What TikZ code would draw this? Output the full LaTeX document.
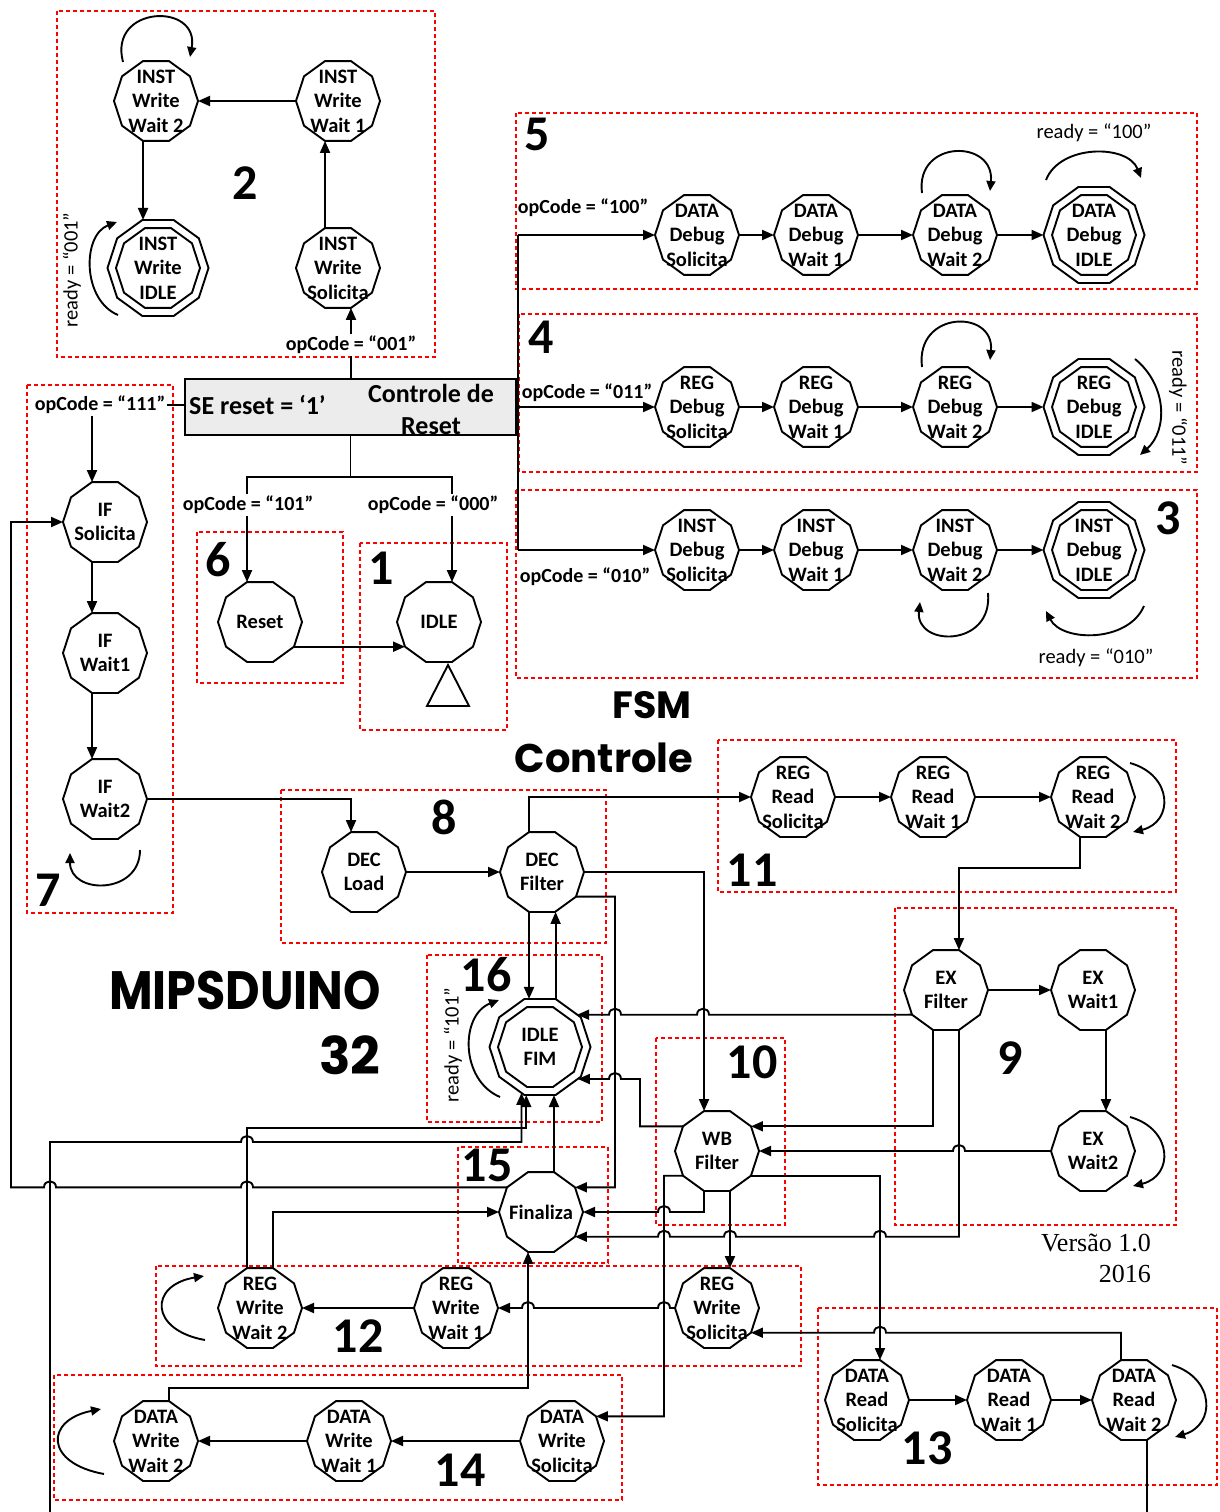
\documentclass[tikz,border=0pt]{standalone}
\usepackage{fontspec}
\usepackage{graphicx}
\setmainfont{Carlito}
\newfontfamily\dispfont{Poppins}
\newfontfamily\verfont{Liberation Serif}
\usetikzlibrary{shapes.geometric,arrows.meta}
\newcommand\hpl[2]{-- (#1+6,#2) .. controls (#1+6,#2-8) and (#1-6,#2-8) .. (#1-6,#2)}
\newcommand\hpr[2]{-- (#1-6,#2) .. controls (#1-6,#2-8) and (#1+6,#2-8) .. (#1+6,#2)}
\newcommand\stn[3]{\node[st] (#1) at (#2) {}; \node[txt] (#1t) at (#1) {#3};}
\newcommand\stdbl[3]{\node[stout] (#1) at (#2) {}; \node[st] (#1i) at (#1) {}; \node[txt] (#1t) at (#1) {#3};}
\begin{document}
\begin{tikzpicture}[x=1pt,y=-1pt,
  st/.style={regular polygon,regular polygon sides=10,draw,line width=1.9pt,minimum size=84pt,inner sep=0pt,outer sep=0pt},
  stout/.style={st,minimum size=101pt},
  txt/.style={font=\bfseries\fontsize{20.5}{24.5}\selectfont,align=center,inner sep=0pt},
  lbl/.style={font=\bfseries\fontsize{20}{24}\selectfont,inner sep=1.5pt},
  rdy/.style={font=\fontsize{20.5}{24}\selectfont,inner sep=0pt},
  num/.style={font=\bfseries\fontsize{50}{50}\selectfont,inner sep=0pt},
  disp/.style={font=\dispfont\bfseries,inner sep=0pt},
  grp/.style={draw=red,line width=1.5pt,dash pattern=on 4pt off 3pt},
  conn/.style={line width=1.9pt},
  arr/.style={conn,-{Triangle[length=12pt,width=10pt]}},
  lp/.style={conn,-{Triangle[length=10pt,width=9pt]}}]
\useasboundingbox (0,0) rectangle (1219,1512);

% group boxes
\draw[grp] (57,11) rectangle (435,357);
\draw[grp] (516,113) rectangle (1197,289);
\draw[grp] (519,314) rectangle (1197,472);
\draw[grp] (516,490) rectangle (1197,678);
\draw[grp] (27,385) rectangle (173,913);
\draw[grp] (197,532) rectangle (343,683);
\draw[grp] (360,543) rectangle (507,730);
\draw[grp] (281,790) rectangle (606,943);
\draw[grp] (718,740) rectangle (1176,892);
\draw[grp] (895,908) rectangle (1176,1225);
\draw[grp] (427,955) rectangle (602,1122);
\draw[grp] (656,1038) rectangle (785,1225);
\draw[grp] (458,1147) rectangle (608,1263);
\draw[grp] (156,1266) rectangle (801,1366);
\draw[grp] (818,1308) rectangle (1217,1485);
\draw[grp] (54,1375) rectangle (622,1500);

% states
\stn{iww2}{156,101}{INST\\Write\\Wait 2}
\stn{iww1}{338,101}{INST\\Write\\Wait 1}
\stdbl{iwidle}{158,268}{INST\\Write\\IDLE}
\stn{iwsol}{338,268}{INST\\Write\\Solicita}

\stn{dds}{697,235}{DATA\\Debug\\Solicita}
\stn{ddw1}{816,235}{DATA\\Debug\\Wait 1}
\stn{ddw2}{955,235}{DATA\\Debug\\Wait 2}
\stdbl{ddi}{1094,235}{DATA\\Debug\\IDLE}
\stn{rds}{697,407}{REG\\Debug\\Solicita}
\stn{rdw1}{816,407}{REG\\Debug\\Wait 1}
\stn{rdw2}{955,407}{REG\\Debug\\Wait 2}
\stdbl{rdi}{1094,407}{REG\\Debug\\IDLE}
\stn{ids}{697,550}{INST\\Debug\\Solicita}
\stn{idw1}{816,550}{INST\\Debug\\Wait 1}
\stn{idw2}{955,550}{INST\\Debug\\Wait 2}
\stdbl{idi}{1094,550}{INST\\Debug\\IDLE}

\stn{ifsol}{105,522}{IF\\Solicita}
\stn{ifw1}{105,653}{IF\\Wait1}
\stn{ifw2}{105,799}{IF\\Wait2}
\stn{rst}{260,622}{Reset}
\stn{idle}{439,622}{IDLE}
\stn{decl}{364,872}{DEC\\Load}
\stn{decf}{542,872}{DEC\\Filter}
\stdbl{ifm}{540,1047}{IDLE\\FIM}
\stn{rrs}{793,797}{REG\\Read\\Solicita}
\stn{rrw1}{933,797}{REG\\Read\\Wait 1}
\stn{rrw2}{1093,797}{REG\\Read\\Wait 2}
\stn{exf}{946,990}{EX\\Filter}
\stn{exw1}{1093,990}{EX\\Wait1}
\stn{exw2}{1093,1151}{EX\\Wait2}
\stn{wb}{717,1151}{WB\\Filter}
\stn{fin}{541,1212}{Finaliza}
\stn{rw2}{260,1308}{REG\\Write\\Wait 2}
\stn{rw1}{456,1308}{REG\\Write\\Wait 1}
\stn{rws}{717,1308}{REG\\Write\\Solicita}
\stn{dw2}{156,1441}{DATA\\Write\\Wait 2}
\stn{dw1}{349,1441}{DATA\\Write\\Wait 1}
\stn{dws}{562,1441}{DATA\\Write\\Solicita}
\stn{drs}{867,1400}{DATA\\Read\\Solicita}
\stn{drw1}{1009,1400}{DATA\\Read\\Wait 1}
\stn{drw2}{1134,1400}{DATA\\Read\\Wait 2}

% control box
\node[draw,fill=gray!15,line width=1.9pt,minimum width=331pt,minimum height=56pt,inner sep=0pt,outer sep=0pt] (ctrl) at (350.5,407) {};
\node[font=\bfseries\fontsize{26}{30}\selectfont,anchor=west,inner sep=0pt] (se) at (189,405) {SE reset = ‘1’};
\node[font=\bfseries\fontsize{26}{32}\selectfont,align=center,inner sep=0pt] (crt) at (431,409) {Controle de\\Reset};

% labels
\node[lbl] (l001) at (351,345) {opCode = “001”};
\node[lbl] (l111) at (100,405) {opCode = “111”};
\node[lbl] (l101) at (248,505) {opCode = “101”};
\node[lbl] (l000) at (433,505) {opCode = “000”};
\node[lbl] (l100) at (583,208) {opCode = “100”};
\node[lbl] (l011) at (587,393) {opCode = “011”};
\node[lbl] (l010) at (585,577) {opCode = “010”};
\node[rdy,rotate=90] (r001) at (72,270) {ready = “001”};
\node[rdy] (r100) at (1094,133) {ready = “100”};
\node[rdy,rotate=-90] (r011) at (1178,408) {ready = “011”};
\node[rdy] (r010) at (1096,658) {ready = “010”};
\node[rdy,rotate=90] (r101) at (453,1045) {ready = “101”};

% numbers
\node[num] (n2) at (245,183) {2};
\node[num] (n5) at (537,134) {5};
\node[num] (n4) at (541,337) {4};
\node[num] (n3) at (1168,518) {3};
\node[num] (n6) at (218,560) {6};
\node[num] (n1) at (381,568) {1};
\node[num] (n7) at (48,890) {7};
\node[num] (n8) at (444,817) {8};
\node[num] (n11) at (752,870) {11};
\node[num] (n16) at (486,975) {16};
\node[num] (n9) at (1010,1058) {9};
\node[num] (n10) at (752,1062) {10};
\node[num] (n15) at (487,1165) {15};
\node[num] (n12) at (358,1336) {12};
\node[num] (n14) at (460,1470) {14};
\node[num] (n13) at (927,1448) {13};

% titles
\node[disp,font=\dispfont\bfseries\fontsize{38}{38}\selectfont] (fsm) at (652,705) {FSM};
\node[disp,font=\dispfont\bfseries\fontsize{40}{40}\selectfont] (ctl) at (604,758) {Controle};
\node[disp,font=\dispfont\bfseries\fontsize{54}{54}\selectfont] (mips) at (245,990) {\scalebox{0.88}[1]{MIPSDUINO}};
\node[disp,font=\dispfont\bfseries\fontsize{52}{52}\selectfont] (n32) at (350,1055) {32};
\node[font=\verfont\fontsize{26}{31}\selectfont,align=right,inner sep=0pt,anchor=east] (ver) at (1151,1258) {Versão 1.0\\2016};

% region 2
\draw[arr] (iww1.west) -- (iww2.east);
\draw[arr] (iww2.-108) -- (iww2.-108 |- iwidle.north);
\draw[arr] (iwsol.108) -- (iww1.-108);
\draw[conn] (ctrl.north -| l001) -- (l001.south);
\draw[arr] (l001.north -| iwsol.-72) -- (iwsol.-72);
\draw[lp] (123,62) .. controls (108,5) and (200,2) .. (190,57);
\draw[lp] (118,315) .. controls (82,300) and (82,235) .. (117,222);

% control box links
\draw[conn] (l111.east) -- (ctrl.west |- l111.east);
\draw[arr] (ifsol.108 |- l111.south) -- (ifsol.108);
\coordinate (jr) at (350.5,477);
\draw[conn] (ctrl.south) -- (jr);
\draw[conn] (jr) -| (rst.108 |- l101.north);
\draw[conn] (jr) -| (idle.72 |- l000.north);
\draw[arr] (rst.108 |- l101.south) -- (rst.108);
\draw[arr] (idle.72 |- l000.south) -- (idle.72);
\draw[arr] (rst.-36) -- (idle.-144);
\draw[conn] (448,665) -- (469,706) -- (427,706) -- cycle;

% debug bus
\coordinate (b5) at (518,235);
\coordinate (b4) at (518,407);
\coordinate (b3) at (518,550);
\draw[conn] (b5) -- (b3);
\draw[arr] (b5) -- (dds.west);
\draw[arr] (b4) -- (rds.west);
\draw[arr] (b3) -- (ids.west);
\draw[arr] (dds.east) -- (ddw1.west);
\draw[arr] (ddw1.east) -- (ddw2.west);
\draw[arr] (ddw2.east) -- (ddi.west);
\draw[arr] (rds.east) -- (rdw1.west);
\draw[arr] (rdw1.east) -- (rdw2.west);
\draw[arr] (rdw2.east) -- (rdi.west);
\draw[arr] (ids.east) -- (idw1.west);
\draw[arr] (idw1.east) -- (idw2.west);
\draw[arr] (idw2.east) -- (idi.west);
\draw[lp] (922,193) .. controls (915,139) and (995,139) .. (990,191);
\draw[lp] (1046,180) .. controls (1060,144) and (1128,144) .. (1141,178);
\draw[lp] (922,367) .. controls (915,310) and (995,309) .. (990,360);
\draw[lp] (1135,359) .. controls (1167,385) and (1168,430) .. (1140,455);
\draw[lp] (988,593) .. controls (993,648) and (915,647) .. (920,602);
\draw[lp] (1144,606) .. controls (1128,643) and (1062,642) .. (1046,611);

% IF
\draw[arr] (ifsol.-108) -- (ifw1.108);
\draw[arr] (ifw1.-108) -- (ifw2.108);
\draw[lp] (140,850) .. controls (140,895) and (70,895) .. (70,853);
\draw[arr] (ifw2.east) -| (decl.108);

% DEC
\draw[arr] (decl.east) -- (decf.west);
\draw[arr] (decf.108) |- (rrs.west);
\draw[arr] (decf.east) -| (wb.108);
\draw[arr] (decf.-36) -| (615,1187.3) -- (fin.36);
\draw[arr] (decf.-108) -- (decf.-108 |- ifm.north);
\draw[arr] (ifm.72) -- (ifm.72 |- decf.south);

% IDLE FIM
\draw[lp] (500,1097) .. controls (460,1080) and (460,1015) .. (499,1000);
\draw[arr] (exf.-144) \hpl{703}{1014.7} \hpl{615}{1014.7} -- (ifm.41 |- exf.-144);
\draw[arr] (wb.144) -| (640,1079) \hpl{615}{1079} -- (ifm.-40 |- 640,1079);
\draw[arr] (rw2.108) -- (rw2.108 |- 0,1128) -| (ifm.-106);
\coordinate (bl) at (50,1512);
\draw[arr] (bl) -- (50,1142) \hpr{247}{1142} -| (ifm.-112);
\draw[arr] (fin.72) -- (fin.72 |- ifm.south);

% Finaliza
\draw[arr] (fin.144) \hpl{247}{1187.3} \hpl{50}{1187.3} -- (11,1187.3) |- (ifsol.west);
\draw[arr] (rw2.72) |- (fin.west);
\draw[arr] (wb.-108) -- (wb.-108 |- fin.east) \hpl{664}{1212} -- (fin.east);
\draw[arr] (exf.-72) -- (exf.-72 |- fin.-36) \hpl{880}{1236.7} \hpl{730}{1236.7} \hpl{664}{1236.7} -- (fin.-36);
\draw[arr] (dw2.72) -- (dw2.72 |- 0,1388) -| (fin.-108);

% WB
\draw[arr] (exf.-108) |- (wb.36);
\draw[arr] (exw2.west) \hpl{959}{1151} -- (wb.east);
\draw[arr] (wb.-144) -| (664,1416.3) -- (dws.36);
\draw[arr] (wb.-72) -- (rws.72);
\draw[arr] (wb.-36) -| (drs.72);

% REG Write
\draw[arr] (rws.west) \hpl{664}{1308} \hpl{528}{1308} -- (rw1.east);
\draw[arr] (rw1.west) -- (rw2.east);
\draw[lp] (205,1340) .. controls (149,1330) and (149,1285) .. (204,1276);
\draw[arr] (drw2.108) -- (drw2.108 |- rws.-36) \hpl{880}{1332.7} -- (rws.-36);

% DATA Write
\draw[arr] (dws.west) -- (dw1.east);
\draw[arr] (dw1.west) -- (dw2.east);
\draw[lp] (104,1474) .. controls (44,1463) and (45,1420) .. (101,1409);

% DATA Read
\draw[arr] (drs.east) -- (drw1.west);
\draw[arr] (drw1.east) -- (drw2.west);
\draw[lp] (1172,1365) .. controls (1215,1378) and (1216,1425) .. (1175,1437);
\coordinate (br) at (1147,1512);
\draw[conn] (drw2.-72) -- (br);

% REG Read
\draw[arr] (rrs.east) -- (rrw1.west);
\draw[arr] (rrw1.east) -- (rrw2.west);
\draw[lp] (1130,763) .. controls (1173,775) and (1174,822) .. (1133,832);
\draw[arr] (rrw2.-108) -- (rrw2.-108 |- 0,868) -| (exf.72);

% EX
\draw[arr] (exf.east) -- (exw1.west);
\draw[arr] (exw1.-72) -- (exw2.72);
\draw[lp] (1130,1117) .. controls (1173,1129) and (1174,1176) .. (1133,1186);
\end{tikzpicture}
\end{document}
